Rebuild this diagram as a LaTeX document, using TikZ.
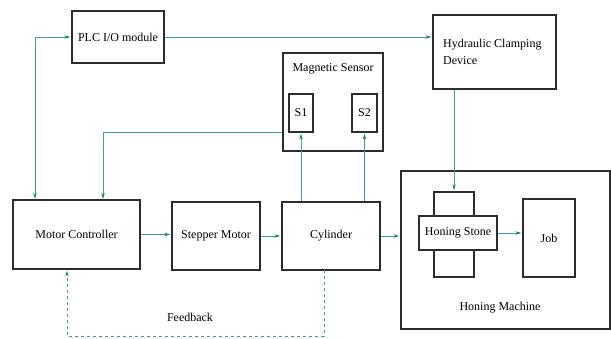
\documentclass[tikz,border=0pt]{standalone}
\usepackage{fontspec}
\setmainfont{Liberation Serif}
\usetikzlibrary{arrows.meta,calc}
\definecolor{LineClr}{RGB}{70,155,155}
\definecolor{TipClr}{RGB}{30,130,115}
\definecolor{BoxClr}{RGB}{45,45,45}

\tikzset{
  blk/.style={draw=BoxClr,line width=1.3pt,inner sep=0pt,font=\fontsize{12}{14}\selectfont},
  lbl/.style={inner sep=0pt,font=\fontsize{12}{14}\selectfont},
  conn/.style={draw=LineClr,line width=0.8pt,-{Stealth[length=6pt,width=3.5pt,fill=TipClr,color=TipClr]},shorten >=1pt},
  twoway/.style={conn,{Stealth[length=6pt,width=3.5pt,fill=TipClr,color=TipClr]}-{Stealth[length=6pt,width=3.5pt,fill=TipClr,color=TipClr]},shorten <=1pt}
}

\begin{document}
\begin{tikzpicture}[x=1pt,y=-1pt]
\useasboundingbox (0,0) rectangle (611,338);

% blocks
\node[blk,minimum width=92pt,minimum height=52pt] (plc) at (118,37) {PLC I/O module};
\node[blk,minimum width=100pt,minimum height=98pt] (ms) at (333,102) {};
\node[lbl,anchor=north] (mslbl) at (333,63) {Magnetic Sensor};
\node[blk,minimum width=24pt,minimum height=38pt] (s1) at (301,113) {S1};
\node[blk,minimum width=25pt,minimum height=38pt] (s2) at (364.5,113) {S2};
\node[blk,minimum width=123pt,minimum height=74pt] (hcd) at (494.5,52) {};
\node[lbl,anchor=north west,align=left,font=\fontsize{12}{17}\selectfont] (hcdlbl) at (443,39) {Hydraulic Clamping\\Device};

\node[blk,minimum width=127pt,minimum height=69pt] (mc) at (76.5,234.5) {Motor Controller};
\node[blk,minimum width=88pt,minimum height=68pt] (sm) at (216,236) {Stepper Motor};
\node[blk,minimum width=98pt,minimum height=68pt] (cyl) at (331,236) {Cylinder};

\node[blk,minimum width=209pt,minimum height=158pt] (hm) at (505.5,250) {};
\node[lbl] (hmlbl) at (500,308) {Honing Machine};
\node[blk,minimum width=40pt,minimum height=85pt] (hsv) at (454,234.5) {};
\node[blk,fill=white,minimum width=78pt,minimum height=34pt] (hsh) at (458,233) {Honing Stone};
\node[blk,minimum width=52pt,minimum height=78pt] (job) at (549,238) {Job};

% connectors
\coordinate (mcA) at (35,200);
\coordinate (mcB) at (103,200);
\coordinate (fbA) at (324,270);
\coordinate (fbB) at (67,336);

\draw[conn] (plc.east) -- (plc.east -| hcd.west);
\draw[twoway] (mcA) |- (plc.west);
\draw[conn] (ms.west |- s1.south) -| (mcB);
\draw[conn] (cyl.north -| s1.south) -- (s1.south);
\draw[conn] (cyl.north -| s2.south) -- (s2.south);
\draw[conn] (hcd.south -| hsv.north) -- (hsv.north);
\draw[conn] (mc.east) -- (mc.east -| sm.west);
\draw[conn] (sm.east) -- (sm.east -| cyl.west);
\draw[conn] (cyl.east) -- (cyl.east -| hm.west);
\draw[conn] (hsh.east) -- (hsh.east -| job.west);
\draw[conn,dashed] (fbA) |- (fbB) -- (mc.south -| fbB);
\node[lbl] (fblbl) at (190,317) {Feedback};

\end{tikzpicture}
\end{document}
